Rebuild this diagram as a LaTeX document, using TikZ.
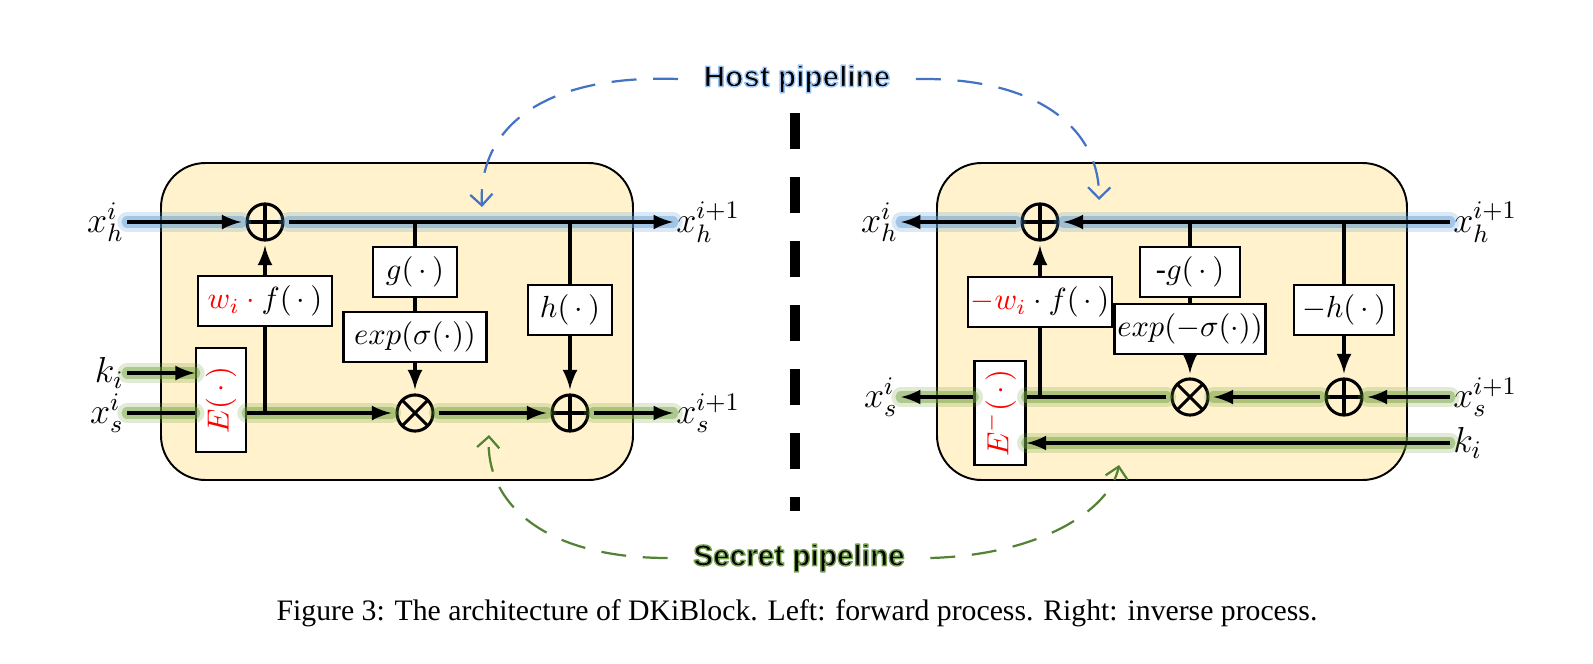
\RequirePackage{fix-cm}
\documentclass[tikz,border=0pt]{standalone}
\usepackage[no-math]{fontspec}
\setmainfont{Liberation Serif}
\newfontfamily\pipefont{Liberation Sans}
\usetikzlibrary{arrows.meta}
\definecolor{blockfill}{RGB}{255,242,204}
\definecolor{hostblue}{RGB}{68,114,196}
\definecolor{secretgreen}{RGB}{84,130,53}
\definecolor{hostglow}{RGB}{91,155,213}
\definecolor{secretglow}{RGB}{112,160,60}
% text with a coloured rim (fill, then stroke)
\newcommand{\halotext}[2]{\special{pdf:literal direct 2 Tr 0.5 w 1 j #1 RG}#2\special{pdf:literal direct 0 Tr 0.4 w 0 j 0 0 0 RG}}

\begin{document}
\begin{tikzpicture}[x=0.36pt, y=-0.36pt,
    block/.style={draw, line width=0.7pt, fill=blockfill, rounded corners=16pt},
    opbox/.style={draw, fill=white, line width=0.8pt, inner sep=1pt, minimum height=18pt, font=\fontsize{11}{13}\selectfont},
    sumop/.style={circle, draw, line width=1.1pt, minimum size=13pt, inner sep=0pt, outer sep=2pt,
      path picture={\draw[line width=1.1pt] (path picture bounding box.north) -- (path picture bounding box.south)
        (path picture bounding box.west) -- (path picture bounding box.east);}},
    prodop/.style={circle, draw, line width=1.1pt, minimum size=13pt, inner sep=0pt, outer sep=2pt,
      path picture={\draw[line width=1.1pt] (path picture bounding box.north west) -- (path picture bounding box.south east)
        (path picture bounding box.south west) -- (path picture bounding box.north east);}},
    lbl/.style={inner sep=1pt, font=\fontsize{13}{15}\selectfont},
    flow/.style={line width=1.4pt},
    hostflow/.style={flow,
      preaction={draw=hostglow, line width=7pt, opacity=0.22, line cap=round, -},
      preaction={draw=hostglow, line width=4pt, opacity=0.45, line cap=round, -}},
    secretflow/.style={flow,
      preaction={draw=secretglow, line width=7pt, opacity=0.22, line cap=round, -},
      preaction={draw=secretglow, line width=4pt, opacity=0.45, line cap=round, -}},
    pipe/.style={line width=0.8pt, dash pattern=on 9pt off 6pt, -{Straight Barb[length=4pt,width=8pt]}},
    pipelabel/.style={font=\pipefont\bfseries\fontsize{10.7}{12}\selectfont, inner sep=9pt},
    divider/.style={line width=3.6pt, dash pattern=on 12.96pt off 10.08pt},
    caption/.style={font=\fontsize{10.7}{12}\selectfont}]
    \useasboundingbox (0,0) rectangle (1593,663);

    % Left block: forward process
    \draw[block] (161,163) rectangle (633,480);
    % Left block operators
    \node[sumop] (plusL) at (265,222) {};
    \node[prodop] (mulL) at (415,413) {};
    \node[sumop] (addL) at (570,413) {};
    % Left block functions
    \node[opbox, minimum width=48.2pt] (fL) at (265,301) {$\textcolor{red}{w_i}\mathbin{\textcolor{red}{\cdot}} f(\,\cdot\,)$};
    \node[opbox, minimum width=30.2pt] (gL) at (415,272) {$g(\,\cdot\,)$};
    \node[opbox, minimum width=51.5pt] (expL) at (415,337) {$exp(\sigma(\cdot))$};
    \node[opbox, minimum width=30.2pt] (hL) at (570,310) {$h(\,\cdot\,)$};
    \node[opbox, minimum width=18pt, minimum height=37.4pt] (encL) at (221,400) {\rotatebox{90}{\textcolor{red}{$E(\,\cdot\,)$}}};
    % Left block inputs and outputs
    \node[lbl, anchor=east] (xhL) at (127,222) {$x_h^i$};
    \node[lbl, anchor=east] (kL) at (127,373) {$k_i$};
    \node[lbl, anchor=east] (xsL) at (127,413) {$x_s^i$};
    \node[lbl, anchor=west] (xhLn) at (673,222) {$x_h^{i+1}$};
    \node[lbl, anchor=west] (xsLn) at (673,413) {$x_s^{i+1}$};
    % Left block host and secret lines
    \draw[hostflow, -latex] (xhL.east) -- (plusL);
    \draw[hostflow, -latex] (plusL) -- (xhLn.west);
    \draw[secretflow, -latex] (kL.east) -- (kL.east -| encL.west);
    \draw[secretflow] (xsL.east) -- (xsL.east -| encL.west);
    \draw[secretflow, -latex] (encL.east |- mulL) -- (mulL);
    \draw[secretflow, -latex] (mulL) -- (addL);
    \draw[secretflow, -latex] (addL) -- (xsLn.west);
    % Left block branches
    \draw[flow] (fL.south |- mulL) -- (fL.south);
    \draw[flow, -latex] (fL) -- (plusL);
    \draw[flow] (gL.north |- plusL) -- (gL);
    \draw[flow] (gL) -- (expL);
    \draw[flow, -latex] (expL) -- (mulL);
    \draw[flow] (hL.north |- plusL) -- (hL);
    \draw[flow, -latex] (hL) -- (addL);

    % Right block: inverse process
    \draw[block] (937,163) rectangle (1407,480);
    % Right block operators
    \node[sumop] (plusR) at (1040,222) {};
    \node[prodop] (mulR) at (1190,397) {};
    \node[sumop] (addR) at (1344,397) {};
    % Right block functions
    \node[opbox, minimum width=51.8pt] (fR) at (1040,302) {$\textcolor{red}{-w_i}\cdot f(\,\cdot\,)$};
    \node[opbox, minimum width=36pt] (gR) at (1190,272) {-$g(\,\cdot\,)$};
    \node[opbox, minimum width=54.4pt] (expR) at (1190,329) {$exp(-\sigma(\cdot))$};
    \node[opbox, minimum width=36pt] (hR) at (1344,310) {$-h(\,\cdot\,)$};
    \node[opbox, minimum width=18.4pt, minimum height=37.4pt] (encR) at (1000,413) {\rotatebox{90}{\textcolor{red}{$E^{-}(\,\cdot\,)$}}};
    % Right block inputs and outputs
    \node[lbl, anchor=east] (xhR) at (901,222) {$x_h^i$};
    \node[lbl, anchor=east] (xsR) at (901,397) {$x_s^i$};
    \node[lbl, anchor=west] (xhRn) at (1450,222) {$x_h^{i+1}$};
    \node[lbl, anchor=west] (xsRn) at (1450,397) {$x_s^{i+1}$};
    \node[lbl, anchor=west] (kR) at (1450,443) {$k_i$};
    % Right block host and secret lines
    \draw[hostflow, -latex] (xhRn.west) -- (plusR);
    \draw[hostflow, -latex] (plusR) -- (xhR.east);
    \draw[secretflow, -latex] (xsRn.west) -- (addR);
    \draw[secretflow, -latex] (addR) -- (mulR);
    \draw[secretflow] (mulR) -- (encR.east |- mulR);
    \draw[secretflow, -latex] (encR.west |- mulR) -- (xsR.east);
    \draw[secretflow, -latex] (kR.west) -- (kR.west -| encR.east);
    % Right block branches
    \draw[flow] (fR.south |- mulR) -- (fR.south);
    \draw[flow, -latex] (fR) -- (plusR);
    \draw[flow] (gR.north |- plusR) -- (gR);
    \draw[flow] (gR) -- (expR);
    \draw[flow, -latex] (expR) -- (mulR);
    \draw[flow] (hR.north |- plusR) -- (hR);
    \draw[flow, -latex] (hR) -- (addR);

    % Divider
    \draw[divider] (795,113) -- (795,511);

    % Pipelines
    \node[pipelabel] (host) at (797,79) {\halotext{0.62 0.77 0.95}{Host pipeline}};
    \node[pipelabel] (secret) at (799,558) {\halotext{0.45 0.62 0.3}{Secret pipeline}};
    \coordinate (hostL) at (482,207);
    \coordinate (hostR) at (1099,200);
    \coordinate (secretL) at (489,435);
    \coordinate (secretR) at (1119,465);
    \draw[pipe, hostblue] (host.west) .. controls (540,74) and (478,130) .. (hostL);
    \draw[pipe, hostblue] (host.east) .. controls (1040,77) and (1100,130) .. (hostR);
    \draw[pipe, secretgreen] (secret.west) .. controls (540,558) and (485,500) .. (secretL);
    \draw[pipe, secretgreen] (secret.east) .. controls (1040,555) and (1110,510) .. (secretR);

    % Caption
    \node[caption] (cap) at (797,613) {Figure 3: The architecture of DKiBlock. Left: forward process. Right: inverse process.};
\end{tikzpicture}
\end{document}
